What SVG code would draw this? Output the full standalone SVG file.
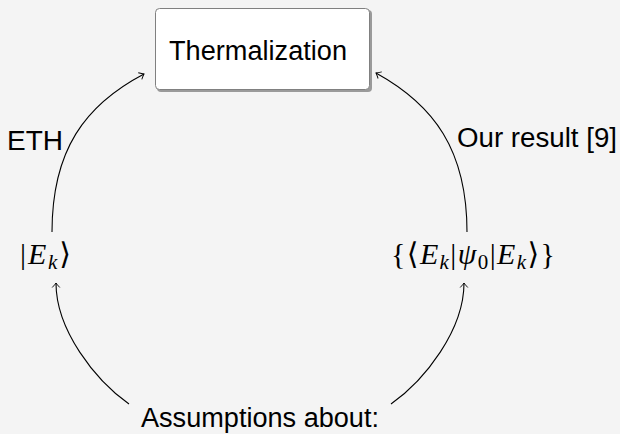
<svg xmlns="http://www.w3.org/2000/svg" width="620" height="434" viewBox="0 0 620 434">
<defs>
<style>
.sans{font-family:"Liberation Sans","DejaVu Sans",sans-serif;font-size:27px;fill:#000}
.math{font-family:"Liberation Serif","DejaVu Serif",serif;font-size:30px;fill:#000}
.it{font-style:italic}
.sub{font-size:21px}
.edge{fill:none;stroke:#000;stroke-width:1.1}
</style>
<marker id="arr" viewBox="-6 -5 8 10" markerWidth="8" markerHeight="10" refX="0" refY="0" orient="auto" markerUnits="userSpaceOnUse">
<path d="M-4.5,-3.8 Q-1.5,-1 0,0 Q-1.5,1 -4.5,3.8" fill="none" stroke="#000" stroke-width="0.9"/>
</marker>
</defs>
<rect width="620" height="434" fill="#f4f4f4"/>
<g id="connectors">
<path class="edge" d="M52,232 C52,150 85,105 144,74" marker-end="url(#arr)"/>
<path class="edge" d="M467,232 C467,150 434,105 376,73" marker-end="url(#arr)"/>
<path class="edge" d="M129,404 C95,380 56,330 56,283" marker-end="url(#arr)"/>
<path class="edge" d="M391,404 C425,380 464,330 464,283" marker-end="url(#arr)"/>
</g>
<g id="thermalization">
<rect x="157" y="10" width="215" height="82" rx="4" fill="#9a9a9a"/>
<rect x="155.5" y="8.5" width="214" height="81" rx="4" fill="#fff" stroke="#808080" stroke-width="1"/>
<text class="sans" x="169" y="60" textLength="178" lengthAdjust="spacingAndGlyphs">Thermalization</text>
</g>
<g id="eth-label">
<text class="sans" x="7" y="150" textLength="56" lengthAdjust="spacingAndGlyphs">ETH</text>
</g>
<g id="our-result-label">
<text class="sans" x="457" y="147" textLength="160" lengthAdjust="spacingAndGlyphs">Our result [9]</text>
</g>
<g id="eigenstates">
<text class="math" x="20" y="264" textLength="51" lengthAdjust="spacing">|<tspan class="it">E</tspan><tspan class="it sub" dy="5">k</tspan><tspan dy="-5">⟩</tspan></text>
</g>
<g id="overlaps">
<text class="math" x="391" y="264" textLength="164" lengthAdjust="spacing">{⟨<tspan class="it">E</tspan><tspan class="it sub" dy="5">k</tspan><tspan dy="-5">|</tspan><tspan class="it">ψ</tspan><tspan class="sub" dy="5">0</tspan><tspan dy="-5">|</tspan><tspan class="it">E</tspan><tspan class="it sub" dy="5">k</tspan><tspan dy="-5">⟩}</tspan></text>
</g>
<g id="assumptions">
<text class="sans" x="141" y="427" textLength="238" lengthAdjust="spacingAndGlyphs">Assumptions about:</text>
</g>
</svg>
